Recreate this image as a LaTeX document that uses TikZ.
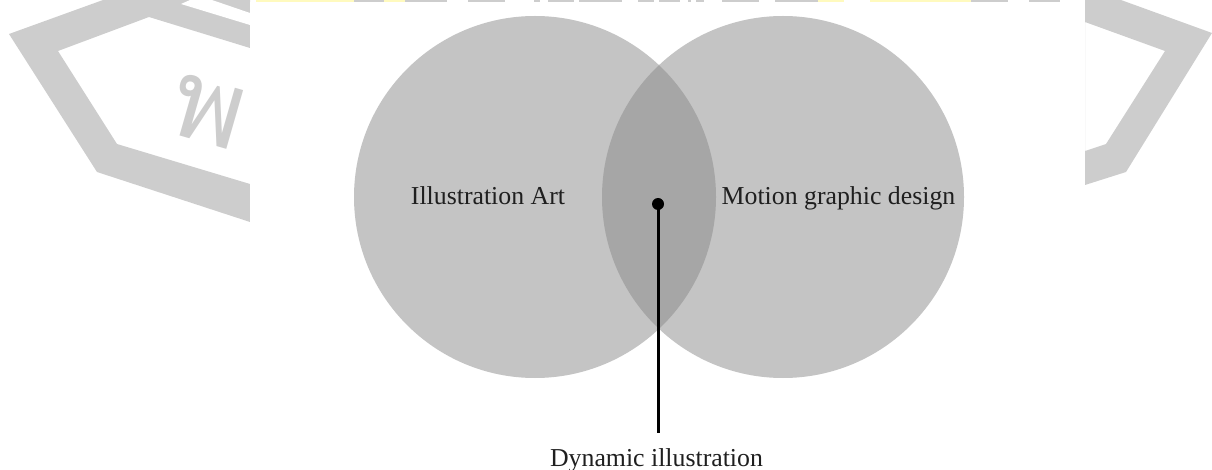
\documentclass[tikz,border=0pt]{standalone}
\usepackage{fontspec}
\setmainfont{Liberation Serif}
\newfontfamily\thaifont[Script=Thai]{Loma}
\definecolor{circgray}{RGB}{196,196,196}
\definecolor{lensgray}{RGB}{166,166,166}
\definecolor{wmgray}{RGB}{205,205,205}
\definecolor{wmyellow}{RGB}{255,250,190}
\tikzset{
  setfill/.style={fill=circgray},
  lensfill/.style={fill=lensgray},
  wm/.style={fill=wmgray},
  wmy/.style={fill=wmyellow},
  lbl/.style={font=\fontsize{25.8pt}{30pt}\selectfont, text=black!88, anchor=base, inner sep=0pt, outer sep=0pt},
}
\begin{document}
\begin{tikzpicture}[x=1pt,y=-1pt]
\useasboundingbox (0,0) rectangle (1212,470);
% watermark (behind the diagram panel)
\fill[wm,even odd rule] (250,222) -- (97,172) -- (9,34) -- (103,0) -- (250,0) -- cycle
  (250,184) -- (117,144) -- (58,51) -- (149,17) -- (250,48) -- cycle;
\fill[white] (181,4) -- (250,25) -- (250,13) -- (212,0) -- (190,0) -- cycle;
\fill[wm,even odd rule] (1085,185) -- (1126,172) -- (1212,33) -- (1121,0) -- (1085,0) -- cycle
  (1085,151) -- (1106,144) -- (1165,51) -- (1085,22) -- cycle;
\node[text=wmgray, rotate=-16, font=\thaifont\fontsize{110pt}{110pt}\selectfont, inner sep=0pt] (wmchar) at (208,112) {พ};
% bottoms of watermark letters at the top edge
\foreach \a/\b in {354/384,405/447,468/505,534/540,548/574,579/622,638/654,659/680,688/691,696/704,722/759,775/818,971/1008,1029/1060}
  \fill[wm] (\a,0) rectangle (\b,3);
\foreach \a/\b in {256/354,384/405,818/844,870/971}
  \fill[wmy] (\a,0) rectangle (\b,3);
% diagram panel
\fill[white] (250,2) rectangle (1085,470);
% circles
\fill[setfill] (535,197) circle[radius=181pt];
\fill[setfill] (783,197) circle[radius=181pt];
\begin{scope}
  \clip (535,197) circle[radius=181pt];
  \fill[lensfill] (783,197) circle[radius=181pt];
\end{scope}
% labels
\node[lbl] (ill) at (488,205) {Illustration Art};
\node[lbl] (mot) at (838.5,205) {Motion graphic design};
\node[lbl] (dyn) at (656.5,466) {Dynamic illustration};
\node[circle, fill=black, inner sep=0pt, minimum size=12pt] (dot) at (658,204) {};
\draw[line width=3pt, shorten >=15pt] (dot.center) -- (dot.center |- dyn.north);
\end{tikzpicture}
\end{document}
